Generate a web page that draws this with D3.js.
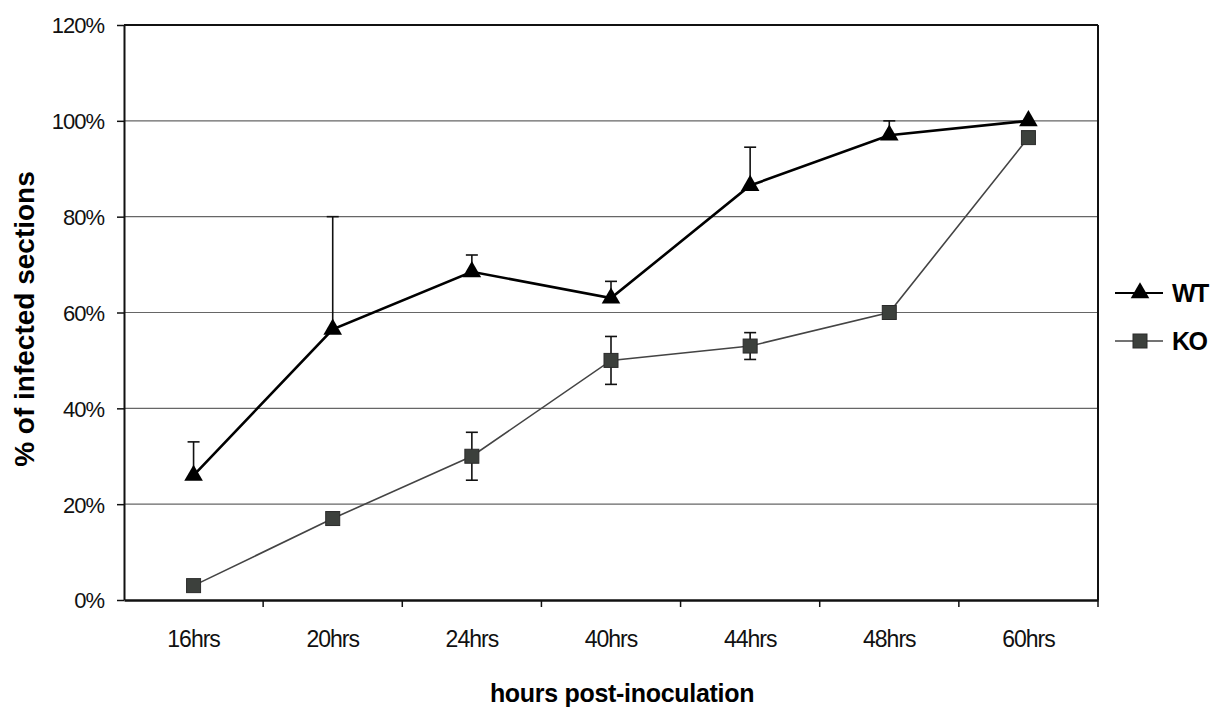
<!DOCTYPE html>
<html>
<head>
<meta charset="utf-8">
<script src="https://cdn.jsdelivr.net/npm/d3@7"></script>
<style>
  body { margin: 0; background: #fff; }
  svg { font-family: "Liberation Sans", Arial, sans-serif; }
</style>
</head>
<body>
<svg width="1212" height="707"></svg>
<script>
const hours = ["16hrs", "20hrs", "24hrs", "40hrs", "44hrs", "48hrs", "60hrs"];
const wtValues = [0.26, 0.565, 0.685, 0.63, 0.865, 0.97, 1.0];
const wtErrUp = [0.07, 0.235, 0.035, 0.035, 0.08, 0.03, 0];
const koValues = [0.03, 0.17, 0.30, 0.50, 0.53, 0.60, 0.965];
const koErr = [0, 0, 0.05, 0.05, 0.028, 0, 0];
const yTicks = [0, 0.2, 0.4, 0.6, 0.8, 1.0, 1.2];

const svg = d3.select("svg");
const plotLeft = 124, plotRight = 1098, plotTop = 25, plotBottom = 600;

const x = d3.scaleBand().domain(hours).range([plotLeft, plotRight]);
const y = d3.scaleLinear().domain([0, 1.2]).range([plotBottom, plotTop]);
const cx = d => x(d) + x.bandwidth() / 2;

// gridlines
svg.append("g")
  .selectAll("line")
  .data(yTicks.slice(1, -1))
  .join("line")
    .attr("x1", plotLeft).attr("x2", plotRight)
    .attr("y1", d => y(d)).attr("y2", d => y(d))
    .attr("stroke", "#666").attr("stroke-width", 1.2);

// frame: top and right
svg.append("line").attr("x1", plotLeft).attr("x2", plotRight).attr("y1", plotTop).attr("y2", plotTop)
  .attr("stroke", "#111").attr("stroke-width", 2);
svg.append("line").attr("x1", plotRight).attr("x2", plotRight).attr("y1", plotTop).attr("y2", plotBottom)
  .attr("stroke", "#111").attr("stroke-width", 2);

// y axis
const yAxis = svg.append("g")
  .attr("transform", `translate(${plotLeft},0)`)
  .call(d3.axisLeft(y).tickValues(yTicks).tickFormat(d3.format(".0%")).tickSize(7).tickSizeOuter(0));
yAxis.select(".domain").attr("stroke", "#111").attr("stroke-width", 2);
yAxis.selectAll(".tick line").attr("stroke", "#111").attr("stroke-width", 1.5);
yAxis.selectAll(".tick text")
  .attr("x", -20).attr("dy", "0.36em")
  .style("font-size", "22px").style("letter-spacing", "-1px").attr("fill", "#111");

// x axis
const xAxis = svg.append("g")
  .attr("transform", `translate(0,${plotBottom})`)
  .call(d3.axisBottom(x).tickSize(0).tickSizeOuter(0));
xAxis.select(".domain").attr("stroke", "#111").attr("stroke-width", 2.5);
xAxis.selectAll(".tick text")
  .attr("y", 47).attr("dy", 0)
  .style("font-size", "23px").style("letter-spacing", "-1px").attr("fill", "#111");
xAxis.selectAll(".bound")
  .data(hours)
  .join("line")
    .attr("class", "bound")
    .attr("x1", d => x(d) + x.step()).attr("x2", d => x(d) + x.step())
    .attr("y1", 0).attr("y2", 7)
    .attr("stroke", "#111").attr("stroke-width", 1.5);

// axis titles
svg.append("text")
  .attr("x", 622).attr("y", 702)
  .attr("text-anchor", "middle")
  .style("font-size", "25px").style("font-weight", "bold").style("letter-spacing", "-0.3px").attr("fill", "#000")
  .text("hours post-inoculation");
svg.append("text")
  .attr("transform", "translate(34,319) rotate(-90)")
  .attr("text-anchor", "middle")
  .style("font-size", "28px").style("font-weight", "bold").attr("fill", "#000")
  .text("% of infected sections");

// KO line
const line = d3.line().x((d, i) => cx(hours[i])).y(d => y(d));
svg.append("path").datum(koValues)
  .attr("d", line).attr("fill", "none")
  .attr("stroke", "#444").attr("stroke-width", 1.6);

// KO error bars
const koErrG = svg.append("g").selectAll("g")
  .data(koValues.map((v, i) => ({ h: hours[i], v, e: koErr[i] })).filter(d => d.e > 0))
  .join("g").attr("stroke", "#111").attr("stroke-width", 1.6);
koErrG.append("line")
  .attr("x1", d => cx(d.h)).attr("x2", d => cx(d.h))
  .attr("y1", d => y(d.v - d.e)).attr("y2", d => y(d.v + d.e));
koErrG.append("line")
  .attr("x1", d => cx(d.h) - 6).attr("x2", d => cx(d.h) + 6)
  .attr("y1", d => y(d.v + d.e)).attr("y2", d => y(d.v + d.e));
koErrG.append("line")
  .attr("x1", d => cx(d.h) - 6).attr("x2", d => cx(d.h) + 6)
  .attr("y1", d => y(d.v - d.e)).attr("y2", d => y(d.v - d.e));

// KO markers
svg.append("g").selectAll("rect")
  .data(koValues)
  .join("rect")
    .attr("x", (d, i) => cx(hours[i]) - 7).attr("y", d => y(d) - 7)
    .attr("width", 14).attr("height", 14)
    .attr("fill", "#3c403c").attr("stroke", "#2a2a2a").attr("stroke-width", 1);

// WT line
svg.append("path").datum(wtValues)
  .attr("d", line).attr("fill", "none")
  .attr("stroke", "#000").attr("stroke-width", 2.6);

// WT error bars (upper only)
const wtErrG = svg.append("g").selectAll("g")
  .data(wtValues.map((v, i) => ({ h: hours[i], v, e: wtErrUp[i] })).filter(d => d.e > 0))
  .join("g").attr("stroke", "#111").attr("stroke-width", 1.6);
wtErrG.append("line")
  .attr("x1", d => cx(d.h)).attr("x2", d => cx(d.h))
  .attr("y1", d => y(d.v)).attr("y2", d => y(d.v + d.e));
wtErrG.append("line")
  .attr("x1", d => cx(d.h) - 6).attr("x2", d => cx(d.h) + 6)
  .attr("y1", d => y(d.v + d.e)).attr("y2", d => y(d.v + d.e));

// WT markers
const tri = d3.symbol().type(d3.symbolTriangle).size(150);
svg.append("g").selectAll("path")
  .data(wtValues)
  .join("path")
    .attr("d", tri)
    .attr("transform", (d, i) => `translate(${cx(hours[i])},${y(d)})`)
    .attr("fill", "#000");

// legend
const legend = [
  { name: "WT", color: "#000", width: 2.2, y: 293, shape: "tri" },
  { name: "KO", color: "#444", width: 1.6, y: 341, shape: "sq" }
];
const lg = svg.append("g").selectAll("g").data(legend).join("g")
  .attr("transform", d => `translate(1140,${d.y})`);
lg.append("line").attr("x1", -25).attr("x2", 23).attr("y1", 0).attr("y2", 0)
  .attr("stroke", d => d.color).attr("stroke-width", d => d.width);
lg.filter(d => d.shape === "tri").append("path").attr("d", tri).attr("fill", "#000");
lg.filter(d => d.shape === "sq").append("rect")
  .attr("x", -7).attr("y", -7).attr("width", 14).attr("height", 14)
  .attr("fill", "#3c403c").attr("stroke", "#2a2a2a");
lg.append("text").attr("x", 32).attr("dy", "0.36em")
  .style("font-size", "25px").style("font-weight", "bold").style("letter-spacing", "-1.5px").attr("fill", "#000")
  .text(d => d.name);
</script>
</body>
</html>
